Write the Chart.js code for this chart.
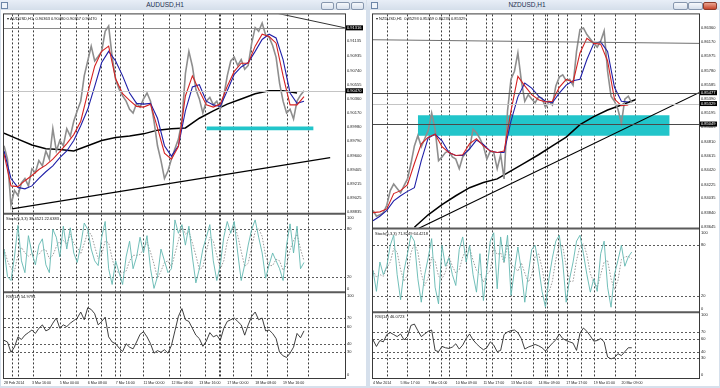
<!DOCTYPE html>
<html>
<head>
<meta charset="utf-8">
<title>AUDUSD,H1 / NZDUSD,H1</title>
<script src="https://cdn.jsdelivr.net/npm/chart.js@4.4.1/dist/chart.umd.min.js"></script>
<style>
  html, body { margin: 0; padding: 0; }
  body { width: 720px; height: 388px; position: relative; overflow: hidden;
         background: #d6e0ec; font-family: "Liberation Sans", Arial, sans-serif; }
  .bar { position: absolute; top: 0; height: 10px; background: linear-gradient(#e8eef7, #d4deea); }
  .caption { position: absolute; top: 0; height: 10px; line-height: 10px; font-size: 6.5px;
             color: #1e3050; text-align: center; }
  .icon { position: absolute; top: 2px; width: 5px; height: 5px; border: 1px solid #6d86a8;
          background: #eef3f9; }
  .btn { position: absolute; top: 2px; height: 6px; border: 1px solid #8797ae; border-radius: 2px;
         background: linear-gradient(#f6f8fb, #d7e0ec); }
  .btn.close { background: linear-gradient(#eba591, #c6452c); border-color: #8c3b2b; }
  canvas { position: absolute; top: 10px; }
</style>
</head>
<body>
<div class="bar" style="left:0;width:366px"></div>
<div class="bar" style="left:367px;width:353px"></div>
<div class="icon" style="left:1px"></div>
<div class="icon" style="left:371px"></div>
<div class="caption" style="left:0;width:330px">AUDUSD,H1</div>
<div class="caption" style="left:366px;width:322px">NZDUSD,H1</div>
<div class="btn" style="left:321px;width:11px"></div>
<div class="btn" style="left:336px;width:12px"></div>
<div class="btn" style="left:351px;width:11px"></div>
<div class="btn" style="left:673px;width:13px"></div>
<div class="btn" style="left:688px;width:13px"></div>
<div class="btn close" style="left:703px;width:12px"></div>

<canvas id="audChart" width="365" height="376" style="left:1px"></canvas>
<canvas id="nzdChart" width="349" height="376" style="left:370px"></canvas>

<script>
// ---------- AUDUSD H1 ----------
// close every 4 bars, fast/slow MA every 8 bars, long MA every 16 bars
const audClose = [
  0.8973, 0.8955, 0.8893, 0.8913, 0.8906, 0.8923, 0.8929, 0.8919, 0.8942, 0.8937,
  0.8953, 0.8946, 0.8966, 0.8955, 0.8996, 0.8966, 0.8980, 0.8973, 0.8996, 0.8986,
  0.9006, 0.9020, 0.9033, 0.9067, 0.9087, 0.9107, 0.9087, 0.9093, 0.9100, 0.9127,
  0.9134, 0.9093, 0.9062, 0.9049, 0.9040, 0.9033, 0.9022, 0.9017, 0.9030, 0.9025,
  0.9036, 0.9044, 0.9033, 0.9006, 0.8973, 0.8953, 0.8929, 0.8939, 0.8955, 0.8969,
  0.8982, 0.9006, 0.9070, 0.9100, 0.9080, 0.9049, 0.9036, 0.9017, 0.9033, 0.9038,
  0.9028, 0.9033, 0.9022, 0.9040, 0.9067, 0.9087, 0.9092, 0.9081, 0.9089, 0.9076,
  0.9081, 0.9111, 0.9132, 0.9127, 0.9138, 0.9122, 0.9119, 0.9108, 0.9092, 0.9057,
  0.9033, 0.9017, 0.9022, 0.9009, 0.9033, 0.9041, 0.9047
];
const audFastMa = [
  0.8962, 0.8919, 0.8918, 0.8926, 0.8933, 0.8941, 0.8947, 0.8955, 0.8965, 0.8976,
  0.8988, 0.9006, 0.9044, 0.9080, 0.9100, 0.9107, 0.9063, 0.9043, 0.9034, 0.9026,
  0.9025, 0.9029, 0.8997, 0.8963, 0.8955, 0.8972, 0.9040, 0.9067, 0.9047, 0.9028,
  0.9025, 0.9029, 0.9053, 0.9073, 0.9084, 0.9084, 0.9107, 0.9123, 0.9120, 0.9111,
  0.9067, 0.9028, 0.9028, 0.9039
];
const audSlowMa = [
  0.8966, 0.8929, 0.8917, 0.8915, 0.8919, 0.8929, 0.8938, 0.8946, 0.8957, 0.8966,
  0.8980, 0.9000, 0.9022, 0.9053, 0.9085, 0.9100, 0.9087, 0.9067, 0.9044, 0.9030,
  0.9029, 0.9030, 0.9010, 0.8973, 0.8959, 0.8973, 0.9020, 0.9052, 0.9055, 0.9033,
  0.9028, 0.9026, 0.9047, 0.9069, 0.9079, 0.9085, 0.9100, 0.9116, 0.9123, 0.9118,
  0.9089, 0.9044, 0.9030, 0.9033
];
const audLongMa = [
  0.8990, 0.8982, 0.8974, 0.8969, 0.8968, 0.8966, 0.8973, 0.8980, 0.8984, 0.8986,
  0.8989, 0.8994, 0.8996, 0.8997, 0.9010, 0.9020, 0.9029, 0.9036, 0.9043, 0.9047,
  0.9047, 0.9044
];
const audStochMain = [
  55, 20, 15, 45, 85, 40, 25, 72, 50, 35, 60, 68, 35, 25, 80, 70, 45, 84, 55, 82,
  50, 38, 60, 88, 80, 55, 40, 34, 70, 90, 30, 10, 40, 25, 10, 45, 65, 30, 45, 70,
  50, 72, 30, 5, 20, 55, 40, 25, 30, 92, 75, 86, 60, 84, 45, 12, 30, 55, 70, 86,
  40, 15, 35, 70, 90, 75, 90, 50, 15, 35, 60, 80, 92, 70, 50, 18, 35, 50, 40, 30,
  15, 60, 87, 50, 84, 30, 38
];
const audStochSignal = [
  55, 40, 30, 27, 48, 57, 50, 46, 49, 52, 48, 54, 54, 43, 47, 58, 65, 66, 61, 74,
  62, 57, 49, 62, 76, 74, 58, 43, 48, 65, 63, 43, 27, 25, 25, 27, 40, 47, 47, 48,
  55, 64, 51, 36, 18, 27, 38, 40, 32, 49, 66, 84, 74, 77, 63, 47, 29, 32, 52, 70,
  65, 47, 30, 40, 65, 78, 85, 72, 52, 33, 37, 58, 77, 81, 71, 46, 34, 34, 42, 40,
  28, 35, 54, 66, 74, 55, 40
];
const audRsi = [
  44, 42, 30, 36, 48, 45, 50, 53, 56, 52, 58, 62, 55, 57, 64, 70, 58, 62, 60, 64,
  67, 70, 77, 68, 82, 80, 75, 62, 66, 71, 48, 42, 40, 35, 31, 40, 36, 34, 42, 51,
  54, 48, 40, 29, 32, 30, 33, 29, 38, 55, 72, 81, 68, 66, 58, 50, 46, 37, 43, 53,
  48, 50, 44, 58, 66, 68, 70, 66, 62, 50, 62, 72, 77, 68, 70, 55, 56, 52, 46, 30,
  26, 24, 29, 36, 52, 47, 55
];
const audTimeLabels = ['28 Feb 2014', '3 Mar 16:00', '5 Mar 00:00', '6 Mar 08:00', '7 Mar 16:00',
  '11 Mar 00:00', '12 Mar 08:00', '13 Mar 16:00', '17 Mar 00:00', '18 Mar 08:00', '19 Mar 16:00'];
const audPriceTicks = [0.91135, 0.90935, 0.90740, 0.90555, 0.90360, 0.90170, 0.89980,
  0.89790, 0.89600, 0.89405, 0.89215, 0.89025, 0.88835];
const audSeparators = [9, 16, 33, 64, 82, 96, 111, 127, 133, 159, 189, 202, 230, 246, 248, 263, 283, 302, 325, 349];
const audLowTrend = [[9, 0.8888], [374, 0.8957]];
const audHighTrend = [[310, 0.9152], [391, 0.91316]];
const audZone = { from: 232, to: 355, top: 0.8999, bottom: 0.8994 };

// ---------- NZDUSD H1 ----------
const nzdClose = [
  0.8387, 0.8379, 0.8381, 0.8384, 0.8394, 0.8414, 0.8423, 0.8417, 0.8411, 0.8421,
  0.8430, 0.8451, 0.8475, 0.8489, 0.8474, 0.8485, 0.8496, 0.8520, 0.8498, 0.8455,
  0.8460, 0.8466, 0.8468, 0.8460, 0.8457, 0.8444, 0.8460, 0.8466, 0.8471, 0.8498,
  0.8493, 0.8485, 0.8475, 0.8457, 0.8468, 0.8466, 0.8444, 0.8463, 0.8430, 0.8523,
  0.8566, 0.8577, 0.8602, 0.8564, 0.8536, 0.8545, 0.8539, 0.8534, 0.8542, 0.8540,
  0.8528, 0.8536, 0.8531, 0.8557, 0.8569, 0.8572, 0.8564, 0.8566, 0.8558, 0.8604,
  0.8634, 0.8636, 0.8627, 0.8621, 0.8615, 0.8610, 0.8618, 0.8632, 0.8577, 0.8543,
  0.8536, 0.8525, 0.8506, 0.8539, 0.8543, 0.8534
];
const nzdFastMa = [
  0.8384, 0.8385, 0.8389, 0.8410, 0.8414, 0.8422, 0.8451, 0.8478, 0.8487, 0.8491,
  0.8474, 0.8466, 0.8462, 0.8463, 0.8478, 0.8485, 0.8475, 0.8468, 0.8466, 0.8468,
  0.8523, 0.8570, 0.8557, 0.8545, 0.8538, 0.8535, 0.8536, 0.8555, 0.8566, 0.8562,
  0.8602, 0.8622, 0.8615, 0.8614, 0.8591, 0.8539, 0.8530, 0.8531
];
const nzdSlowMa = [
  0.8373, 0.8379, 0.8387, 0.8400, 0.8407, 0.8413, 0.8418, 0.8455, 0.8486, 0.8491,
  0.8482, 0.8466, 0.8462, 0.8462, 0.8471, 0.8483, 0.8477, 0.8468, 0.8466, 0.8466,
  0.8509, 0.8542, 0.8561, 0.8554, 0.8543, 0.8536, 0.8534, 0.8547, 0.8558, 0.8564,
  0.8566, 0.8593, 0.8615, 0.8617, 0.8604, 0.8555, 0.8536, 0.8535
];
const nzdLongMa = [
  null, null, null, 0.8364, 0.8381, 0.8395, 0.8407, 0.8418, 0.8425, 0.8430,
  0.8441, 0.8452, 0.8463, 0.8475, 0.8487, 0.8504, 0.8515, 0.8524, 0.8531, 0.8538
];
const nzdStochMain = [
  50, 25, 60, 45, 55, 80, 92, 45, 15, 50, 70, 92, 85, 40, 12, 45, 65, 88, 30, 10,
  80, 55, 65, 45, 32, 75, 90, 60, 80, 45, 24, 70, 14, 50, 85, 95, 28, 90, 60, 92,
  20, 50, 78, 50, 12, 45, 75, 80, 55, 25, 6, 40, 65, 85, 92, 60, 12, 40, 60, 85,
  92, 70, 45, 24, 40, 25, 70, 85, 30, 6, 45, 62, 80, 55, 66, 72
];
const nzdStochSignal = [
  50, 42, 45, 43, 53, 60, 76, 72, 51, 37, 45, 71, 82, 72, 46, 32, 41, 66, 61, 43,
  40, 48, 67, 55, 47, 51, 66, 75, 77, 62, 50, 46, 36, 45, 50, 77, 69, 71, 59, 81,
  57, 54, 49, 59, 47, 36, 44, 67, 70, 53, 29, 24, 37, 63, 81, 79, 55, 37, 37, 62,
  79, 82, 69, 46, 36, 30, 45, 60, 62, 40, 27, 38, 63, 66, 67, 64
];
const nzdRsi = [
  58, 48, 57, 55, 66, 69, 66, 63, 67, 58, 63, 80, 82, 72, 63, 67, 71, 73, 42, 40,
  48, 46, 45, 47, 52, 44, 50, 60, 67, 58, 52, 47, 43, 46, 55, 50, 40, 42, 66, 70,
  72, 73, 69, 60, 44, 47, 49, 51, 49, 46, 41, 47, 53, 58, 67, 60, 57, 55, 53, 42,
  68, 76, 71, 64, 56, 57, 60, 55, 32, 29, 31, 37, 34, 40, 46, 46
];
const nzdTimeLabels = ['4 Mar 2014', '5 Mar 17:00', '7 Mar 01:00', '10 Mar 09:00', '11 Mar 17:00',
  '13 Mar 01:00', '14 Mar 09:00', '17 Mar 17:00', '19 Mar 01:00', '20 Mar 09:00'];
const nzdPriceTicks = [0.86360, 0.86170, 0.85975, 0.85780, 0.85585, 0.85390, 0.85195, 0.85005,
  0.84810, 0.84615, 0.84420, 0.84225, 0.84035, 0.83840, 0.83645];
const nzdSeparators = [16, 40, 65, 79, 88, 108, 131, 138, 160, 185, 200, 202, 214, 225, 241, 256, 281, 304];
const nzdTrend = [[52, 0.8362], [378, 0.85477]];
const nzdTopLine = [[0, 0.8620], [378, 0.8615]];
const nzdZone = { from: 52, to: 344, top: 0.8517, bottom: 0.8489 };

// indicator scales (label text sits slightly inside the panel like the terminal does)
const stochTickPos = [95, 80, 20, 4];
const stochTickText = ['100', '80', '20', '0'];
const rsiTickPos = [96, 70, 60, 40, 30, 4];
const rsiTickText = ['100', '70', '60', '40', '30', '0'];

const FONT = '"Liberation Sans", Arial, sans-serif';

function pts(arr, step) {
  return arr.map((v, i) => ({ x: i * step, y: v }));
}
function seg(pairs) {
  return pairs.map(p => ({ x: p[0], y: p[1] }));
}
function line(data, yAxisID, color, width, extra) {
  return Object.assign({ data, yAxisID, borderColor: color, borderWidth: width,
    pointRadius: 0, fill: false, tension: 0 }, extra || {});
}

const mtPlugin = {
  id: 'mt',
  beforeDraw(chart, args, o) {
    const { ctx, chartArea: a, scales } = chart;
    ctx.save();
    ctx.fillStyle = '#ffffff';
    ctx.fillRect(0, 0, chart.width, chart.height);
    ctx.lineWidth = 1;
    ctx.setLineDash([2, 2]);
    ctx.strokeStyle = '#3c3c3c';
    o.separators.forEach(b => {
      const px = Math.round(scales.x.getPixelForValue(b)) + 0.5;
      ctx.beginPath(); ctx.moveTo(px, a.top); ctx.lineTo(px, a.bottom); ctx.stroke();
    });
    ctx.strokeStyle = '#5c5c5c';
    [['ys', [80, 20]], ['yr', [70, 60, 40, 30]]].forEach(([id, levels]) => {
      levels.forEach(v => {
        const py = Math.round(scales[id].getPixelForValue(v)) + 0.5;
        ctx.beginPath(); ctx.moveTo(a.left, py); ctx.lineTo(a.right, py); ctx.stroke();
      });
    });
    ctx.restore();
  },
  afterDatasetsDraw(chart, args, o) {
    const { ctx, chartArea: a, scales } = chart;
    ctx.save();
    ctx.lineWidth = 1;
    o.hlines.forEach(h => {
      const py = Math.round(scales.y.getPixelForValue(h.value)) + 0.5;
      ctx.strokeStyle = h.color;
      ctx.beginPath(); ctx.moveTo(a.left, py); ctx.lineTo(a.right, py); ctx.stroke();
    });
    ctx.restore();
  },
  afterDraw(chart, args, o) {
    const { ctx, chartArea: a, scales } = chart;
    ctx.save();
    ctx.strokeStyle = '#3a3a3a';
    ctx.lineWidth = 1;
    ctx.strokeRect(a.left - 0.5, a.top - 0.5, a.right - a.left + 1, a.bottom - a.top + 1);
    ctx.strokeStyle = '#5a5a5a';
    ctx.lineWidth = 2;
    [scales.ys.top, scales.yr.top].forEach(t => {
      ctx.beginPath(); ctx.moveTo(a.left, t); ctx.lineTo(a.right, t); ctx.stroke();
    });
    ctx.font = '4px ' + FONT;
    ctx.textBaseline = 'middle';
    o.hlines.forEach(h => {
      const py = scales.y.getPixelForValue(h.value);
      ctx.fillStyle = '#000';
      ctx.fillRect(a.right + 1, py - 2.5, 17, 5);
      ctx.fillStyle = '#fff';
      ctx.fillText(h.value.toFixed(5), a.right + 2, py);
    });
    ctx.fillStyle = '#111';
    ctx.textBaseline = 'top';
    ctx.fillText(o.captions[0], a.left + 3, a.top + 2);
    ctx.fillText(o.captions[1], a.left + 2, scales.ys.top + 3);
    ctx.fillText(o.captions[2], a.left + 2, scales.yr.top + 3);
    ctx.restore();
  }
};

function buildChart(id, cfg) {
  const tickFont = { family: FONT, size: 4 };
  const yCommon = {
    position: 'right', stack: 'win',
    grid: { display: false, drawTicks: false }, border: { display: false },
    afterFit: ax => { ax.width = cfg.axisWidth; }
  };
  return new Chart(document.getElementById(id), {
    type: 'line',
    data: { datasets: cfg.datasets },
    options: {
      responsive: false, animation: false, devicePixelRatio: 1,
      layout: { padding: { left: 2, top: 3, right: 0, bottom: 0 } },
      plugins: { legend: { display: false }, tooltip: { enabled: false }, mt: cfg.mt },
      scales: {
        x: {
          type: 'linear', min: 0, max: cfg.xMax,
          grid: { display: false, drawTicks: false }, border: { display: false },
          afterBuildTicks: ax => { ax.ticks = cfg.timeLabels.map((t, i) => ({ value: i * 32 })); },
          afterFit: ax => { ax.height = 8; },
          ticks: { autoSkip: false, maxRotation: 0, align: 'start', padding: 3, color: '#222',
                   font: { family: FONT, size: 3.6 }, callback: (v, i) => cfg.timeLabels[i] }
        },
        y: Object.assign({}, yCommon, {
          stackWeight: cfg.weights[0], min: cfg.yMin, max: cfg.yMax,
          afterBuildTicks: ax => { ax.ticks = cfg.priceTicks.map(v => ({ value: v })); },
          ticks: { autoSkip: false, padding: 2, color: '#222', font: tickFont, crossAlign: 'near',
                   callback: v => Number(v).toFixed(5) }
        }),
        ys: Object.assign({}, yCommon, {
          stackWeight: cfg.weights[1], min: 0, max: 100,
          afterBuildTicks: ax => { ax.ticks = stochTickPos.map(v => ({ value: v })); },
          ticks: { autoSkip: false, padding: 2, color: '#222', font: tickFont, crossAlign: 'near',
                   callback: (v, i) => stochTickText[i] }
        }),
        yr: Object.assign({}, yCommon, {
          stackWeight: cfg.weights[2], min: 0, max: 100,
          afterBuildTicks: ax => { ax.ticks = rsiTickPos.map(v => ({ value: v })); },
          ticks: { autoSkip: false, padding: 2, color: '#222', font: tickFont, crossAlign: 'near',
                   callback: (v, i) => rsiTickText[i] }
        })
      }
    },
    plugins: [mtPlugin]
  });
}

const CYAN = '#22c5ca';

buildChart('audChart', {
  xMax: 391, yMin: 0.88817, yMax: 0.91497, weights: [200, 79, 86], axisWidth: 21,
  timeLabels: audTimeLabels, priceTicks: audPriceTicks,
  mt: {
    separators: audSeparators,
    hlines: [{ value: 0.91316, color: '#8a8a8a' }, { value: 0.90470, color: '#c4c4c4' }],
    captions: ['\u25BE AUDUSD,H1  0.90363 0.90480 0.90357 0.90470', 'Stoch(5,3,3) 38.4521 22.6383', 'RSI(14) 54.9794']
  },
  datasets: [
    line(seg(audLowTrend), 'y', '#000', 1.2),
    line(seg(audHighTrend), 'y', '#333', 1),
    line(pts(audFastMa, 8), 'y', '#d42222', 1.1),
    line(pts(audSlowMa, 8), 'y', '#2020a8', 1.1),
    line(pts(audClose, 4), 'y', '#8e8e8e', 1.6),
    line(pts(audLongMa, 16), 'y', '#000', 1.5),
    line(seg([[audZone.from, audZone.top], [audZone.to, audZone.top]]), 'y', CYAN, 0,
         { fill: { value: audZone.bottom }, backgroundColor: CYAN }),
    line(pts(audStochMain, 4), 'ys', '#62b8b1', 0.9),
    line(pts(audStochSignal, 4), 'ys', '#9a9a9a', 1, { borderDash: [1.5, 1.5] }),
    line(pts(audRsi, 4), 'yr', '#2a2a2a', 0.9)
  ]
});

buildChart('nzdChart', {
  xMax: 378, yMin: 0.83622, yMax: 0.86546, weights: [215, 84, 66], axisWidth: 20,
  timeLabels: nzdTimeLabels, priceTicks: nzdPriceTicks,
  mt: {
    separators: nzdSeparators,
    hlines: [{ value: 0.85477, color: '#4a4a4a' }, { value: 0.85329, color: '#c4c4c4' },
             { value: 0.85049, color: '#4a4a4a' }],
    captions: ['\u25BE NZDUSD,H1  0.85293 0.85359 0.85237 0.85329', 'Stoch(5,3,3) 71.8249 64.4218', 'RSI(14) 46.0723']
  },
  datasets: [
    line(seg(nzdTrend), 'y', '#000', 1.2),
    line(seg(nzdTopLine), 'y', '#707070', 1),
    line(pts(nzdFastMa, 8), 'y', '#d42222', 1.1),
    line(pts(nzdSlowMa, 8), 'y', '#2020a8', 1.1),
    line(pts(nzdClose, 4), 'y', '#8e8e8e', 1.6),
    line(pts(nzdLongMa, 16), 'y', '#000', 1.5),
    line(seg([[nzdZone.from, nzdZone.top], [nzdZone.to, nzdZone.top]]), 'y', CYAN, 0,
         { fill: { value: nzdZone.bottom }, backgroundColor: CYAN }),
    line(pts(nzdStochMain, 4), 'ys', '#62b8b1', 0.9),
    line(pts(nzdStochSignal, 4), 'ys', '#9a9a9a', 1, { borderDash: [1.5, 1.5] }),
    line(pts(nzdRsi, 4), 'yr', '#2a2a2a', 0.9)
  ]
});
</script>
</body>
</html>
